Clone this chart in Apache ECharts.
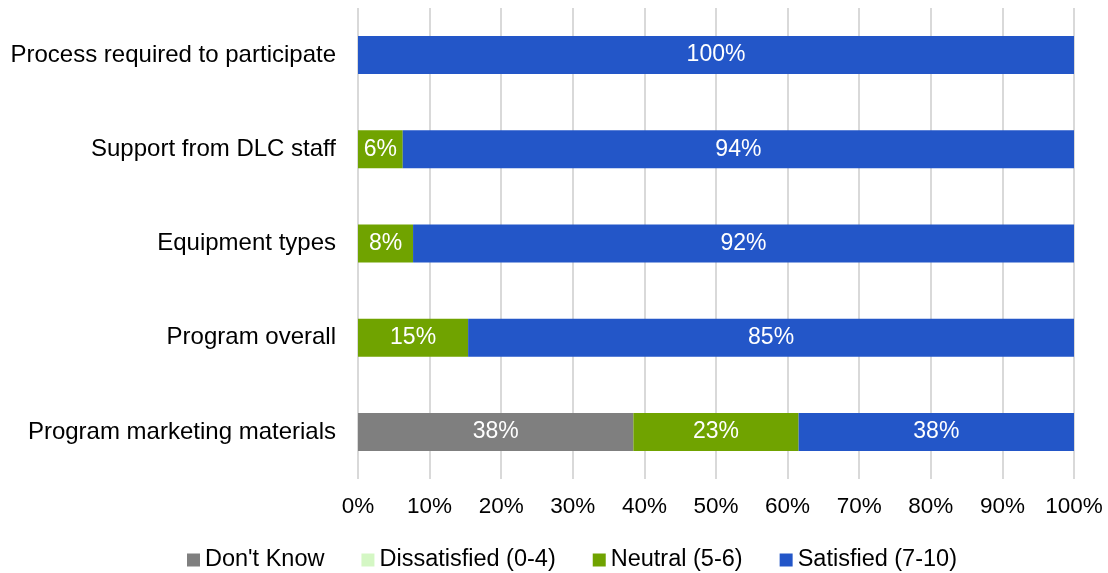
<!DOCTYPE html>
<html>
<head>
<meta charset="utf-8">
<script src="https://cdn.jsdelivr.net/npm/echarts@6/dist/echarts.min.js"></script>
<style>
html,body{margin:0;padding:0;background:#fff;}
#chart{width:1108px;height:573px;}
</style>
</head>
<body>
<div id="chart"></div>
<script>
// Survey items, listed top to bottom
const categories = [
  'Process required to participate',
  'Support from DLC staff',
  'Equipment types',
  'Program overall',
  'Program marketing materials'
];
// Share of respondents (%) per rating group
const dontKnow     = [0, 0, 0, 0, 38.46];
const dissatisfied = [0, 0, 0, 0, 0];
const neutral      = [0, 6.25, 7.69, 15.38, 23.08];
const satisfied    = [100, 93.75, 92.31, 84.62, 38.46];
const tickLabels   = ['0%','10%','20%','30%','40%','50%','60%','70%','80%','90%','100%'];

const FONT = '"Liberation Sans", Arial, sans-serif';

function bar(name, data, color) {
  return {
    name: name,
    type: 'bar',
    stack: 'total',
    data: data,
    barWidth: 38,
    itemStyle: { color: color },
    label: {
      show: true,
      position: 'inside',
      color: '#ffffff',
      fontFamily: FONT,
      fontSize: 23,
      formatter: p => p.value > 0 ? Math.round(p.value) + '%' : ''
    }
  };
}

const chart = echarts.init(document.getElementById('chart'), null, { renderer: 'canvas' });
chart.setOption({
  animation: false,
  textStyle: { fontFamily: FONT },
  grid: { left: 358, right: 34, top: 8, bottom: 94, containLabel: false },
  legend: {
    left: 182,
    top: 543,
    itemWidth: 13,
    itemHeight: 13,
    itemGap: 37,
    icon: 'rect',
    textStyle: { fontFamily: FONT, fontSize: 23.5, color: '#000' },
    data: ["Don't Know", 'Dissatisfied (0-4)', 'Neutral (5-6)', 'Satisfied (7-10)']
  },
  xAxis: {
    type: 'value',
    min: 0,
    max: 100,
    interval: 10,
    axisLine: { show: false },
    axisTick: { show: false },
    splitLine: { show: true, lineStyle: { color: '#d9d9d9', width: 2 } },
    axisLabel: {
      fontFamily: FONT,
      fontSize: 22.5,
      color: '#000',
      margin: 16,
      formatter: v => tickLabels[Math.round(v / 10)]
    }
  },
  yAxis: {
    type: 'category',
    inverse: true,
    data: categories,
    axisLine: { show: false },
    axisTick: { show: false },
    axisLabel: { fontFamily: FONT, fontSize: 24, color: '#000', margin: 22 }
  },
  series: [
    bar("Don't Know", dontKnow, '#7f7f7f'),
    bar('Dissatisfied (0-4)', dissatisfied, '#d4f7c4'),
    bar('Neutral (5-6)', neutral, '#70a300'),
    bar('Satisfied (7-10)', satisfied, '#2356c8')
  ]
});
</script>
</body>
</html>
